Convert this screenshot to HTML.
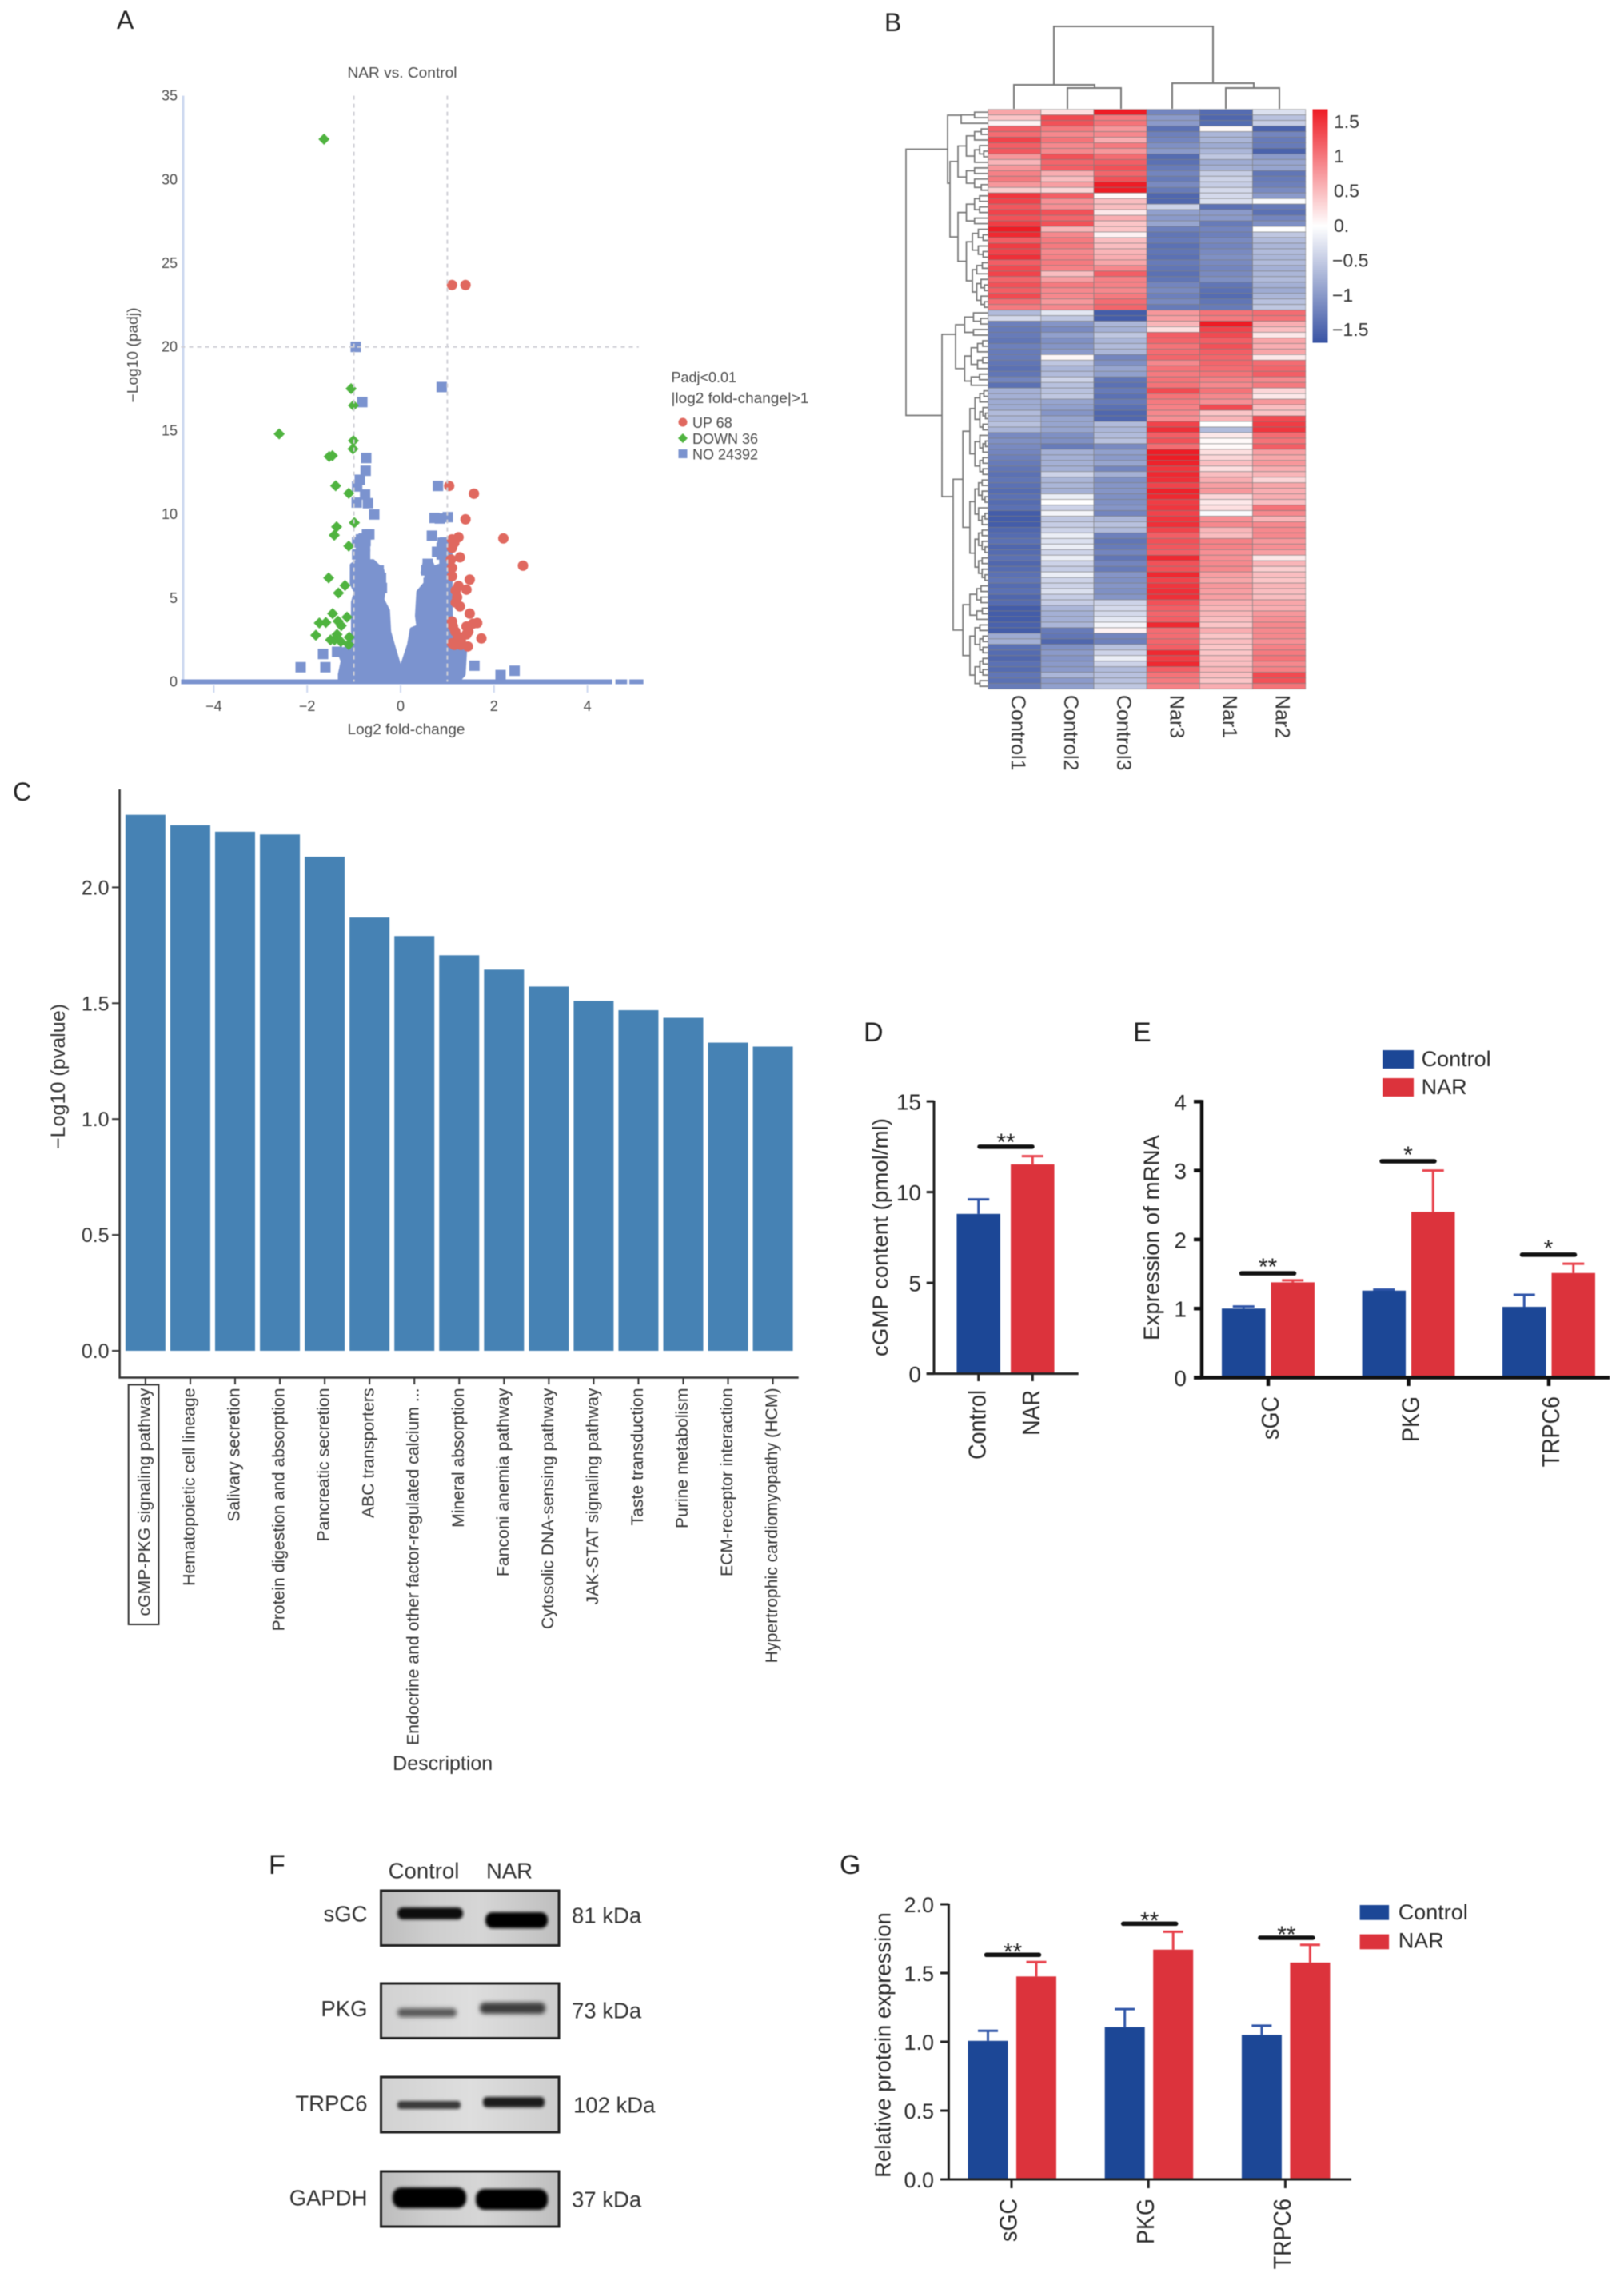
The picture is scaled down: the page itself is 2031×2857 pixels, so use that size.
<!DOCTYPE html>
<html lang="en">
<head>
<meta charset="utf-8">
<title>NAR vs Control multi-panel figure</title>
<style>
html,body{margin:0;padding:0;background:#fff}
svg{display:block;font-family:"Liberation Sans",Arial,sans-serif;filter:blur(0.6px)}
text{fill:#333}
.lab{font-size:32px;fill:#222}
.a{font-size:18px;fill:#4a4a4a}
.d{font-size:27px;fill:#2a2a2a}
.bl{font-size:27.5px;fill:#333}
</style>
</head>
<body>
<svg id="figure" xmlns="http://www.w3.org/2000/svg" width="2031" height="2857" viewBox="0 0 2031 2857">
<defs>
<linearGradient id="cbar" x1="0" y1="0" x2="0" y2="1">
<stop offset="0" stop-color="#ee1c25"/><stop offset=".5" stop-color="#ffffff"/><stop offset="1" stop-color="#3953a4"/>
</linearGradient>
<linearGradient id="membraneA" x1="0" y1="0" x2="1" y2="0">
<stop offset="0" stop-color="#bdbdbd"/><stop offset=".3" stop-color="#cfcfcf"/><stop offset=".55" stop-color="#d6d6d6"/><stop offset="1" stop-color="#bfbfbf"/>
</linearGradient>
<linearGradient id="membraneB" x1="0" y1="0" x2="1" y2="0">
<stop offset="0" stop-color="#d2d2d2"/><stop offset=".5" stop-color="#dedede"/><stop offset="1" stop-color="#cdcdcd"/>
</linearGradient>
<filter id="blot" x="-20%" y="-80%" width="140%" height="260%"><feGaussianBlur stdDeviation="2.6"/></filter>
<filter id="blot2" x="-20%" y="-80%" width="140%" height="260%"><feGaussianBlur stdDeviation="1.8"/></filter>
</defs>

<text class="lab" x="146" y="36">A</text>
<text class="lab" x="1106" y="39">B</text>
<text class="lab" x="16" y="1001">C</text>
<text class="lab" x="1080" y="1302" style="font-size:34px">D</text>
<text class="lab" x="1417" y="1302" style="font-size:34px">E</text>
<text class="lab" x="336" y="2343" style="font-size:34px">F</text>
<text class="lab" x="1050" y="2343" style="font-size:34px">G</text>

<!-- Panel A -->
<g id="panelA">
<text class="a" x="503" y="91" text-anchor="middle" dominant-baseline="central" textLength="137" lengthAdjust="spacingAndGlyphs">NAR vs. Control</text>
<text class="a" transform="translate(166 444) rotate(-90)" text-anchor="middle" dominant-baseline="central" textLength="119" lengthAdjust="spacingAndGlyphs">−Log10 (padj)</text>
<text class="a" x="508" y="912" text-anchor="middle" dominant-baseline="central" textLength="147" lengthAdjust="spacingAndGlyphs">Log2 fold-change</text>
<text class="a" x="839.5" y="472" dominant-baseline="central">Padj&lt;0.01</text>
<text class="a" x="839.5" y="498" dominant-baseline="central" textLength="172" lengthAdjust="spacingAndGlyphs">|log2 fold-change|&gt;1</text>
<circle cx="854" cy="528" r="5.5" fill="#e0685f"/>
<text class="a" x="866" y="529" dominant-baseline="central">UP 68</text>
<polygon points="854,542 860,548 854,554 848,548" fill="#4fb33f"/>
<text class="a" x="866" y="549" dominant-baseline="central">DOWN 36</text>
<rect x="848.5" y="562" width="11" height="11" fill="#7b93cf"/>
<text class="a" x="866" y="568.5" dominant-baseline="central">NO 24392</text>
</g>

<!-- Panel B -->
<g id="panelB">
<path fill="none" stroke="#777" stroke-width="2"
 d="M1318 104V33H1517V102 M1268 136V106H1369V110 M1335 136V110H1402V136 M1318 106V104 M1466 136V104H1568V110 M1533 136V110H1600V136 M1517 104V102"/>
<g id="rowDendro"></g>
<g id="heatCells"></g>
<rect x="1641.5" y="136.5" width="19" height="292" fill="url(#cbar)"/>
</g>

<!-- Panel C -->
<g id="panelC">
<text transform="translate(73 1346) rotate(-90)" text-anchor="middle" dominant-baseline="central" style="font-size:25px" textLength="182" lengthAdjust="spacingAndGlyphs">−Log10 (pvalue)</text>
<text x="553.7" y="2205" text-anchor="middle" dominant-baseline="central" style="font-size:25px">Description</text>
<rect x="160.7" y="1731.4" width="37.7" height="299.6" fill="none" stroke="#333" stroke-width="2"/>
</g>

<!-- Panel D -->
<g id="panelD">
<text class="d" transform="translate(1101 1547) rotate(-90)" text-anchor="middle" dominant-baseline="central" textLength="298" lengthAdjust="spacingAndGlyphs">cGMP content (pmol/ml)</text>
</g>

<!-- Panel E -->
<g id="panelE">
<text class="d" transform="translate(1440 1547.5) rotate(-90)" text-anchor="middle" dominant-baseline="central" style="font-size:27.7px">Expression of mRNA</text>
<rect x="1729" y="1313" width="39" height="23" fill="#1c4796"/>
<text class="d" x="1777.6" y="1324" dominant-baseline="central">Control</text>
<rect x="1729" y="1348" width="39" height="23" fill="#dc333c"/>
<text class="d" x="1777.6" y="1359" dominant-baseline="central">NAR</text>
</g>

<!-- Panel F -->
<g id="panelF">
<text class="bl" x="530" y="2339" text-anchor="middle" dominant-baseline="central">Control</text>
<text class="bl" x="637" y="2339" text-anchor="middle" dominant-baseline="central">NAR</text>

<rect x="476.5" y="2364" width="222.5" height="68.5" fill="url(#membraneA)" stroke="#222" stroke-width="3"/>
<rect x="497" y="2385" width="82" height="15" rx="7" fill="#111" filter="url(#blot2)"/>
<rect x="607" y="2391" width="78" height="20" rx="9" fill="#050505" filter="url(#blot2)"/>
<text class="bl" x="459.5" y="2393" text-anchor="end" dominant-baseline="central">sGC</text>
<text class="bl" x="715" y="2395" dominant-baseline="central">81 kDa</text>

<rect x="476.5" y="2480" width="222.5" height="68.5" fill="url(#membraneB)" stroke="#222" stroke-width="3"/>
<rect x="497" y="2511" width="74" height="11" rx="5" fill="#5a5a5a" filter="url(#blot)"/>
<rect x="600" y="2504" width="82" height="14" rx="6" fill="#3c3c3c" filter="url(#blot)"/>
<text class="bl" x="459.5" y="2511.4" text-anchor="end" dominant-baseline="central">PKG</text>
<text class="bl" x="715" y="2514" dominant-baseline="central">73 kDa</text>

<rect x="476.5" y="2597" width="222.5" height="69" fill="url(#membraneB)" stroke="#222" stroke-width="3"/>
<rect x="497" y="2627" width="79" height="10" rx="4" fill="#3a3a3a" filter="url(#blot2)"/>
<rect x="604" y="2622" width="77" height="13" rx="5" fill="#1c1c1c" filter="url(#blot2)"/>
<text class="bl" x="459.5" y="2630" text-anchor="end" dominant-baseline="central">TRPC6</text>
<text class="bl" x="717" y="2632" dominant-baseline="central">102 kDa</text>

<rect x="476.5" y="2715" width="222.5" height="69" fill="url(#membraneA)" stroke="#222" stroke-width="3"/>
<rect x="491" y="2735" width="92" height="26" rx="11" fill="#050505" filter="url(#blot2)"/>
<rect x="595" y="2737" width="90" height="26" rx="11" fill="#050505" filter="url(#blot2)"/>
<text class="bl" x="459.5" y="2748" text-anchor="end" dominant-baseline="central">GAPDH</text>
<text class="bl" x="715" y="2750" dominant-baseline="central">37 kDa</text>
</g>

<!-- Panel G -->
<g id="panelG">
<text class="d" transform="translate(1104 2557) rotate(-90)" text-anchor="middle" dominant-baseline="central" style="font-size:27.5px">Relative protein expression</text>
<rect x="1700.6" y="2382" width="36.5" height="18.7" fill="#1c4796"/>
<text class="d" x="1748.7" y="2391" dominant-baseline="central">Control</text>
<rect x="1700.6" y="2418.6" width="36.5" height="18.7" fill="#dc333c"/>
<text class="d" x="1748.7" y="2426.4" dominant-baseline="central">NAR</text>
</g>
</svg>

<script>
/* ---------- Panel A data ---------- */
const volcanoXTicks = [-4, -2, 0, 2, 4];
const volcanoYTicks = [0, 5, 10, 15, 20, 25, 30, 35];
const upX = [1.1,1.39,1.04,1.57,1.39,2.2,2.62,1.24,1.1,1.15,1.1,1.27,1.08,1.1,1.1,1.48,1.24,1.41,1.18,1.21,1.18,1.27,1.48,1.64,1.55,1.41,1.1,1.12,1.17,1.23,1.29,1.44,1.41,1.45,1.73,1.1,1.15,1.29];
const upY = [23.7,23.7,11.69,11.23,9.7,8.56,6.93,8.63,8.5,8.3,8.0,7.43,7.3,6.8,6.3,6.1,5.72,5.5,5.45,5.05,4.73,4.5,4.07,3.51,3.47,3.3,3.6,3.3,3.0,2.7,2.45,2.11,2.83,3.0,2.59,2.3,2.2,2.2];
const downX = [-1.64,-2.6,-1.06,-1.01,-1.01,-1.02,-1.53,-1.46,-1.39,-1.11,-0.99,-1.37,-1.42,-1.11,-1.54,-1.19,-1.33,-1.455,-1.147,-1.34,-1.27,-1.74,-1.6,-1.815,-1.36,-1.415,-1.5,-1.1,-1.11,-1.28];
const downY = [32.4,14.8,17.5,16.5,14.4,13.9,13.45,13.5,11.7,11.25,9.5,9.25,8.75,8.1,6.2,5.75,5.3,4.07,3.86,3.62,3.35,3.51,3.54,2.78,2.83,2.5,2.5,2.66,2.22,2.4];
const noX = [-0.96,0.88,-0.82,-0.736,-0.748,-0.873,-0.93,-0.76,-0.94,-0.7,-0.565,-0.67,-0.79,-0.93,-0.93,-0.76,-0.76,-0.47,0.8,0.725,0.84,1.01,0.67,0.95,0.78,0.95,0.58,0.55,0.95,-1.66,-2.14,-1.61,1.58,2.14,2.44,-1.36,-0.85,-0.85,-0.85,-0.75,-0.72,0.88,0.88,1.0,1.0,0.9,0.62,0.6,-0.42,-0.4];
const noY = [20,17.6,16.7,13.36,12.6,12.06,11.66,11.18,10.7,10.66,9.99,8.8,8.56,8.32,7.6,8.08,7.6,6.65,11.69,9.78,9.75,9.83,8.72,8.32,7.76,7.76,7.04,6.65,7.1,1.66,0.87,0.87,0.96,0.4,0.66,1.79,8.0,7.5,8.5,8.4,8.8,8.0,7.6,8.3,7.8,8.3,6.2,5.9,6.2,5.6];
const massX = [-1.3,-1.3,-1.24,-1.33,-1.02,-1.02,-0.96,-1.045,-1.045,-0.93,-0.59,-0.39,-0.35,-0.39,-0.27,-0.245,-0.13,0,0.18,0.24,0.38,0.35,0.38,0.5,0.7,0.47,0.52,0.67,0.7,0.87,0.87,1.07,1.07,1.09,1.38,1.35,1.21];
const massY = [0,0.44,1.24,1.87,2.1,4.74,5.37,5.85,6.97,7.2,7.2,6.65,5.77,4.9,4.26,2.98,1.87,0.68,2.2,3.14,3.3,3.94,5.37,5.77,6.33,6.5,7.2,7.04,6.8,6.97,7.36,7.36,4.74,2.2,1.87,0.44,0];
const baselineStart = [-4.7, 4.6, 4.9];
const baselineEnd = [4.53, 4.85, 5.2];
const thresholdsX = [-1, 1];
const thresholdY = 20;

/* ---------- Panel B data (row values per column, top to bottom) ---------- */
const heatColumns = ['Control1','Control2','Control3','Nar3','Nar1','Nar2'];
const control1Values = [.5,.3,.05,1,.9,1.2,1,1.05,.6,.4,.6,.75,.8,.6,.25,1.3,1.2,1.05,1.2,1.1,1.25,1.5,1.4,1,1.25,1.2,1.35,1,1.15,1.2,.95,1.1,1,1.15,.9,.8,-.5,-.25,-1.05,-1.1,-1.1,-1.15,-1.05,-1.1,-1.1,-1.15,-1.2,-1.15,-1,-1.2,-.6,-.6,-.65,-.65,-.5,-.55,-.45,-.55,-.95,-.9,-.95,-1,-1.05,-1.1,-1.15,-1.2,-1.15,-1.2,-1.25,-1.2,-1.25,-1.2,-1.4,-1.4,-1.4,-1.3,-1.25,-1.2,-1.3,-1.25,-1.2,-1.3,-1.25,-1.2,-1.15,-1.25,-1.2,-1.3,-1.25,-1.4,-1.4,-1.4,-1.35,-1.4,-.65,-.6,-1.2,-1.25,-1.3,-1.2,-1.25,-1.15,-1.2,-1.1];
const control2Values = [.15,1.15,1.1,.8,.7,.85,.7,.7,1.1,.95,1,.45,.35,.55,.2,1,.65,.65,1.1,.95,1.1,.4,.7,.8,.8,.7,.75,.8,.75,.35,.55,.8,.7,.7,.6,.7,-.15,-.4,-.85,-.95,-.75,-.9,-.85,-.8,.03,-.4,-.55,-.5,-.3,-.45,-.45,-.4,-.7,-.75,-.85,-.7,-.7,-.7,-.9,-.9,-1.1,-.6,-.6,-.6,-.6,-.3,-.55,-.55,-.6,-.1,0,-.3,-.05,-.4,-.35,-.3,-.1,-.2,-.1,-.3,-.1,-.3,-.35,-.1,-.3,-.3,-.2,-.35,-.35,-.55,-.6,-.6,-.55,-1.1,-1.15,-1.3,-.9,-.8,-.85,-.8,-.8,-.55,-.8,-.75];
const control3Values = [1.5,.8,.85,.6,.7,.45,.8,.6,.9,1,1.1,.95,1.1,1.5,1.5,.02,.35,.35,.1,.45,.3,.3,.05,.35,.35,.4,.45,.5,.7,1,.75,.75,.7,.8,.9,.95,-1.4,-1.4,-.55,-.6,-.4,-.55,-.5,-.55,-1,-.9,-.7,-.75,-1.15,-1.2,-1.1,-1.2,-1.1,-1.2,-1.3,-1.3,-.5,-.55,-.5,-.45,-.95,-.75,-.8,-.7,-1,-.6,-.9,-.85,-.85,-.9,-.9,-.85,-1,-.55,-.45,-.5,-1.05,-1.15,-1.1,-1,-1.15,-1,-1.1,-.85,-.9,-.85,-.9,-.85,-.3,-.25,-.25,-.15,-.05,.05,-1,-1.05,-.45,-.3,-.1,-.3,-.5,-.45,-.45,-.4];
const nar3Values = [-1,-.8,-.8,-1.2,-1.05,-1,-.9,-.8,-1.25,-1.2,-1.1,-1,-1.1,-.95,-1.1,-1.3,-1.3,-.3,-.75,-.8,-.7,-1.05,-1.15,-1.1,-1.2,-1.15,-1.2,-1.1,-1.15,-1.2,-1.15,-1,-.95,-1.05,-.95,-1.1,.6,.55,.4,.15,1,.95,.85,.9,.95,.7,.85,.8,.85,.85,1.15,.85,.8,.75,.7,.65,1.2,1.35,1,1.1,.9,1.5,1.55,1.45,1.3,1.4,1.35,1.2,1.45,1.4,1.25,1.3,1.2,1.3,1.35,1.2,1,1.1,1.05,1,1.4,1.1,1.1,1.4,1.2,1.3,1.35,1.35,1.1,1,.95,1,1.4,.9,.9,.95,1,1.4,1.25,1.4,1,.85,.8,.75];
const nar1Values = [-1.25,-1.3,-1.25,.02,-.55,-.55,-.65,-.55,-.4,-.65,-.6,-.35,-.3,-.35,-.25,-.25,-.2,-1.2,-.8,-.8,-1.1,-1,-1.05,-.95,-1,-.95,-.9,-.95,-1,-.95,-.9,-1.15,-1.2,-1.25,-1.15,-1.1,.85,.8,1.5,1.2,1.15,1,1.1,1,.95,.95,.9,.85,.75,.7,.85,.7,.65,1.15,.3,.4,0,-.5,.1,.02,.02,.15,.2,.35,.15,.35,.45,.55,.6,.2,.1,.15,-.02,.65,.7,.4,.35,.75,.75,.65,.65,.7,.7,.55,.5,.6,.55,.55,.45,.4,.4,.35,.3,.45,.3,.35,.3,.3,.35,.35,.4,.35,.3,.45];
const nar2Values = [-.2,-.45,-.35,-1.35,-1,-1.1,-1.1,-1.35,-.8,-.7,-.7,-1.15,-1.1,-1.05,-.95,-.8,-.02,-1.1,-1.2,-1,-.9,0,-.4,-.5,-.55,-.5,-.55,-.5,-.6,-.55,-.5,-.6,-.65,-.55,-.45,-.4,.9,.85,.45,.35,.1,.5,.45,.5,.1,.9,.95,1,.7,.8,.2,.1,.6,.35,.3,1.15,1.25,1.3,.9,.85,1,.55,.5,.6,.45,.4,.2,.5,.45,.45,.35,.85,.7,.4,.7,.7,.7,.6,.65,.55,.1,.4,.25,.35,.3,.4,.35,.35,.5,.45,.6,.65,.7,.7,.7,.65,.75,.8,.85,.7,.75,1.15,1.1,.85];
const heatValues = [control1Values, control2Values, control3Values, nar3Values, nar1Values, nar2Values];
const scaleLabels = ['1.5','1','0.5','0.','−0.5','−1','−1.5'];
const scaleValues = [1.5,1,.5,0,-.5,-1,-1.5];
const dendroSplits = [.5,.35,.6,.4,.55,.3,.65,.45];

/* ---------- Panel C data ---------- */
const pathwayNames = ['cGMP-PKG signaling pathway','Hematopoietic cell lineage','Salivary secretion','Protein digestion and absorption','Pancreatic secretion','ABC transporters','Endocrine and other factor-regulated calcium ...','Mineral absorption','Fanconi anemia pathway','Cytosolic DNA-sensing pathway','JAK-STAT signaling pathway','Taste transduction','Purine metabolism','ECM-receptor interaction','Hypertrophic cardiomyopathy (HCM)'];
const pathwayValues = [2.313,2.268,2.24,2.228,2.132,1.87,1.79,1.707,1.645,1.572,1.51,1.47,1.437,1.33,1.313];
const pathwayTicks = ['0.0','0.5','1.0','1.5','2.0'];

/* ---------- Panel D data ---------- */
const cgmpGroups = ['Control','NAR'];
const cgmpMeans = [8.8,11.53];
const cgmpUpper = [9.6,11.98];
const cgmpTicks = [0,5,10,15];
const cgmpSigLevel = 12.5;
const cgmpSigLabel = '**';

/* ---------- Panel E data ---------- */
const mrnaGenes = ['sGC','PKG','TRPC6'];
const mrnaControl = [1.0,1.26,1.025];
const mrnaNar = [1.38,2.4,1.515];
const mrnaControlUpper = [1.03,1.275,1.2];
const mrnaNarUpper = [1.41,3.0,1.65];
const mrnaTicks = [0,1,2,3,4];
const mrnaSigLevels = [1.51,3.135,1.78];
const mrnaSigLabels = ['**','*','*'];

/* ---------- Panel G data ---------- */
const proteinGenes = ['sGC','PKG','TRPC6'];
const proteinControl = [1.007,1.107,1.05];
const proteinNar = [1.475,1.67,1.576];
const proteinControlUpper = [1.08,1.238,1.117];
const proteinNarUpper = [1.58,1.8,1.705];
const proteinTicks = ['0.0','0.5','1.0','1.5','2.0'];
const proteinSigLevels = [1.632,1.858,1.756];
const proteinSigLabels = ['**','**','**'];

const NS = 'http://www.w3.org/2000/svg';
function mk(tag, attrs, parent, txt) {
  const el = document.createElementNS(NS, tag);
  for (const k in attrs) el.setAttribute(k, attrs[k]);
  if (txt !== undefined) el.textContent = txt;
  parent.appendChild(el);
  return el;
}
const BLUE = '#1c4796', RED = '#dc333c', BLUE_E = '#2f55a8', RED_E = '#e8424c';

/* ---------- Panel A ---------- */
(function () {
  const g = document.getElementById('panelA');
  const xA = v => 501 + 58.4 * v;
  const yA = v => 852.5 - 20.94 * v;
  const axis = mk('line', {x1: 229, x2: 229, y1: yA(35), y2: yA(0), stroke: '#cdd8f0', 'stroke-width': 3}, g);
  
  
  volcanoYTicks.forEach(t => {
    const el = mk('text', {class: 'a', x: 222, y: yA(t), 'text-anchor': 'end', 'dominant-baseline': 'central'}, g, String(t));
    
    
  });
  volcanoXTicks.forEach(t => {
    const tick = mk('line', {x1: xA(t), x2: xA(t), y1: 857, y2: 866, stroke: '#cdd8f0', 'stroke-width': 2}, g);
    
    
    const el = mk('text', {class: 'a', x: xA(t), y: 883, 'text-anchor': 'middle', 'dominant-baseline': 'central'}, g, t < 0 ? '−' + (-t) : String(t));
    
    
  });
  baselineStart.forEach((s, i) => {
    const b = mk('rect', {x: xA(s), y: yA(0) - 3, width: xA(baselineEnd[i]) - xA(s), height: 6, fill: '#7b93cf'}, g);
    
    
  });
  const mass = mk('polygon', {points: massX.map((v, i) => xA(v) + ',' + yA(massY[i])).join(' '), fill: '#7b93cf', stroke: '#7b93cf', 'stroke-width': 5, 'stroke-linejoin': 'round'}, g);
  
  
  noX.forEach((v, i) => {
    const p = mk('rect', {x: xA(v) - 6.5, y: yA(noY[i]) - 6.5, width: 13, height: 13, fill: '#7b93cf'}, g);
    
    
  });
  downX.forEach((v, i) => {
    const cx = xA(v), cy = yA(downY[i]);
    const p = mk('polygon', {points: [cx, cy - 7, cx + 7, cy, cx, cy + 7, cx - 7, cy].join(','), fill: '#4fb33f'}, g);
    
    
  });
  upX.forEach((v, i) => {
    const p = mk('circle', {cx: xA(v), cy: yA(upY[i]), r: 6.5, fill: '#e0685f'}, g);
    
    
  });
  thresholdsX.forEach(t => {
    const l = mk('line', {x1: xA(t), x2: xA(t), y1: yA(35), y2: yA(0), stroke: '#cfcfd6', 'stroke-width': 2, 'stroke-dasharray': '5 5'}, g);
    
    
  });
  const h = mk('line', {x1: xA(-4.7), x2: xA(5.1), y1: yA(thresholdY), y2: yA(thresholdY), stroke: '#cfcfd6', 'stroke-width': 2, 'stroke-dasharray': '5 5'}, g);
  
  
})();

/* ---------- Panel B ---------- */
(function () {
  const g = document.getElementById('panelB');
  const cells = document.getElementById('heatCells');
  const colW = 66.17, left = 1235.7, top = 136.7, rowH = 6.97;
  const xH = c => left + c * colW;
  const yH = r => top + r * rowH;
  const mix = (a, b, t) => a.map((v, i) => Math.round(v + (b[i] - v) * t));
  const color = v => {
    const t = Math.pow(Math.min(1, Math.abs(v) / 1.5), 0.85);
    const c = v >= 0 ? mix([255, 255, 255], [238, 28, 37], t) : mix([255, 255, 255], [57, 83, 164], t);
    return 'rgb(' + c.join(',') + ')';
  };
  heatValues.forEach((col, c) => {
    col.forEach((v, r) => {
      const cell = mk('rect', {x: xH(c), y: yH(r), width: colW, height: rowH, fill: color(v), stroke: 'rgba(125,125,125,.6)', 'stroke-width': 0.9}, cells);
      
      
    });
    const lab = mk('text', {transform: 'translate(' + (xH(c) + colW / 2 + 4) + ' 869) rotate(90)', 'dominant-baseline': 'central', style: 'font-size:25px'}, g, heatColumns[c]);
    
    
  });
  const yScale = v => 282 - 86.8 * v;
  scaleLabels.forEach((s, i) => {
    const t = mk('text', {x: scaleValues[i] < 0 ? 1666 : 1668, y: yScale(scaleValues[i]), 'dominant-baseline': 'central', style: 'font-size:23px'}, g, s);
    
    
  });

  const rd = document.getElementById('rowDendro');
  let d = '', k = 0;
  const R = 1235.5;
  const join = (a, b, x) => {
    d += 'M' + a.x + ' ' + a.y + 'H' + x + 'V' + b.y + 'H' + b.x;
    return {x: x, y: (a.y + b.y) / 2};
  };
  const build = (lo, hi, x) => {
    const n = hi - lo;
    if (n === 1) return {x: R, y: yH(lo) + rowH / 2};
    const s = dendroSplits[k++ % dendroSplits.length];
    const m = lo + Math.min(n - 1, Math.max(1, Math.round(n * s)));
    const nx = x + (R - x) * (n > 8 ? .28 : n > 3 ? .38 : .5);
    return join(build(lo, m, nx), build(m, hi, nx), x);
  };
  const a = build(0, 3, 1202);
  a.y = 144;
  const b = build(3, 15, 1198);
  const c = build(15, 36, 1198);
  const bc = join(b, c, 1188);
  bc.y = 229;
  const ab = join(a, bc, 1185);
  const e = build(36, 50, 1195);
  e.y = 418;
  const f = build(50, 104, 1192);
  f.y = 621;
  const ef = join(e, f, 1178);
  join(ab, ef, 1133);
  const path = mk('path', {d: d, fill: 'none', stroke: '#777', 'stroke-width': 1.7}, rd);
  
  
})();

/* ---------- Panel C ---------- */
(function () {
  const g = document.getElementById('panelC');
  const yC = v => 1689 - 289.8 * v;
  const xC = i => 181.9 + 56.05 * i;
  pathwayValues.forEach((v, i) => {
    const bar = mk('rect', {x: xC(i) - 25, y: yC(v), width: 50, height: yC(0) - yC(v), fill: '#4682b4'}, g);
    
    
    const tick = mk('line', {x1: xC(i), x2: xC(i), y1: 1722, y2: 1731, stroke: '#333', 'stroke-width': 2}, g);
    
    
    const lab = mk('text', {transform: 'translate(' + (xC(i) - 1) + ' 1735.5) rotate(-90)', 'text-anchor': 'end', 'dominant-baseline': 'central', style: 'font-size:21.2px'}, g, pathwayNames[i]);
    
    
  });
  pathwayTicks.forEach(t => {
    const y = yC(parseFloat(t));
    const tick = mk('line', {x1: 140, x2: 149, y1: y, y2: y, stroke: '#333', 'stroke-width': 2}, g);
    
    
    const lab = mk('text', {x: 136.6, y: y + 1, 'text-anchor': 'end', 'dominant-baseline': 'central', style: 'font-size:25px'}, g, t);
    
    
  });
  const ay = mk('line', {x1: 149.6, x2: 149.6, y1: 987, y2: 1723.5, stroke: '#333', 'stroke-width': 2.5}, g);
  
  
  const ax = mk('line', {x1: 148.5, x2: 998.7, y1: 1722.5, y2: 1722.5, stroke: '#333', 'stroke-width': 2.5}, g);
  
  
})();

/* ---------- shared pieces for D, E, G ---------- */
function drawBar(g, name, x, w, yTop, yBase, yErr, fill, errFill, capW, lw) {
  const cx = x + w / 2;
  const e1 = mk('line', {x1: cx, x2: cx, y1: yTop, y2: yErr, stroke: errFill, 'stroke-width': lw}, g);
  
  
  const e2 = mk('line', {x1: cx - capW / 2, x2: cx + capW / 2, y1: yErr, y2: yErr, stroke: errFill, 'stroke-width': lw}, g);
  
  
  const b = mk('rect', {x: x, y: yTop, width: w, height: yBase - yTop, fill: fill}, g);
  
  
}
function drawSig(g, name, cx, halfW, y, label, gap) {
  const l = mk('line', {x1: cx - halfW, x2: cx + halfW, y1: y, y2: y, stroke: '#111', 'stroke-width': 5.5, 'stroke-linecap': 'round'}, g);
  
  
  const t = mk('text', {x: cx, y: y + gap, 'text-anchor': 'middle', style: 'font-size:30px;fill:#222'}, g, label);
  
  
}
function rotatedLabel(g, text, x, y) {
  return mk('text', {class: 'd', transform: 'translate(' + x + ' ' + y + ') rotate(-90) scale(.87 1)', 'text-anchor': 'end', 'dominant-baseline': 'central', style: 'font-size:31px'}, g, text);
}

/* ---------- Panel D ---------- */
(function () {
  const g = document.getElementById('panelD');
  const yD = v => 1717.6 - 22.7 * v;
  const xD = i => 1223.7 + 67.6 * i;
  cgmpGroups.forEach((name, i) => {
    drawBar(g, name.toLowerCase(), xD(i) - 27.25, 54.5, yD(cgmpMeans[i]), yD(0), yD(cgmpUpper[i]), i ? RED : BLUE, i ? RED_E : BLUE_E, 27, 3);
    const tick = mk('line', {x1: xD(i), x2: xD(i), y1: yD(0), y2: 1727, stroke: '#222', 'stroke-width': 3}, g);
    
    
    const lab = rotatedLabel(g, name, xD(i) - 1, 1738);
    
    
  });
  cgmpTicks.forEach(t => {
    const tick = mk('line', {x1: 1158.7, x2: 1168, y1: yD(t), y2: yD(t), stroke: '#222', 'stroke-width': 3}, g);
    
    
    const lab = mk('text', {x: 1152, y: yD(t) + 1, 'text-anchor': 'end', 'dominant-baseline': 'central', style: 'font-size:28px;fill:#2a2a2a'}, g, String(t));
    
    
  });
  const ay = mk('line', {x1: 1168, x2: 1168, y1: yD(15) - 1, y2: yD(0) + 1, stroke: '#222', 'stroke-width': 3}, g);
  
  
  const ax = mk('line', {x1: 1158.7, x2: 1348.7, y1: yD(0), y2: yD(0), stroke: '#222', 'stroke-width': 3}, g);
  
  
  drawSig(g, 'cgmp', (xD(0) + xD(1)) / 2 + .5, 33, yD(cgmpSigLevel), cgmpSigLabel, 4);
})();

/* ---------- Panel E ---------- */
(function () {
  const g = document.getElementById('panelE');
  const yE = v => 1722.5 - 86.3 * v;
  const xE = i => 1586 + 175.5 * i;
  mrnaGenes.forEach((name, i) => {
    drawBar(g, 'control-' + name, xE(i) - 58, 54.5, yE(mrnaControl[i]), yE(0), yE(mrnaControlUpper[i]), BLUE, BLUE_E, 27, 3);
    drawBar(g, 'nar-' + name, xE(i) + 3.5, 54.5, yE(mrnaNar[i]), yE(0), yE(mrnaNarUpper[i]), RED, RED_E, 27, 3);
    const tick = mk('line', {x1: xE(i), x2: xE(i), y1: yE(0), y2: 1733, stroke: '#111', 'stroke-width': 4.5}, g);
    
    
    const lab = rotatedLabel(g, name, xE(i) + 3.5, 1746);
    
    
    drawSig(g, 'mrna-' + name, xE(i) - .5, 33, yE(mrnaSigLevels[i]), mrnaSigLabels[i], 2);
  });
  mrnaTicks.forEach(t => {
    const tick = mk('line', {x1: 1493, x2: 1503, y1: yE(t), y2: yE(t), stroke: '#111', 'stroke-width': 4.5}, g);
    
    
    const lab = mk('text', {x: 1484, y: yE(t) + 1, 'text-anchor': 'end', 'dominant-baseline': 'central', style: 'font-size:28px;fill:#2a2a2a'}, g, String(t));
    
    
  });
  const ay = mk('line', {x1: 1503, x2: 1503, y1: yE(4) - 2, y2: yE(0) + 2, stroke: '#111', 'stroke-width': 4.5}, g);
  
  
  const ax = mk('line', {x1: 1493, x2: 2013, y1: yE(0), y2: yE(0), stroke: '#111', 'stroke-width': 4.5}, g);
  
  
})();

/* ---------- Panel G ---------- */
(function () {
  const g = document.getElementById('panelG');
  const yG = v => 2725 - 172 * v;
  const xG = i => 1265 + 171.2 * i;
  proteinGenes.forEach((name, i) => {
    drawBar(g, 'control-' + name, xG(i) - 54.5, 50, yG(proteinControl[i]), yG(0), yG(proteinControlUpper[i]), BLUE, BLUE_E, 25, 3);
    drawBar(g, 'nar-' + name, xG(i) + 6, 50, yG(proteinNar[i]), yG(0), yG(proteinNarUpper[i]), RED, RED_E, 25, 3);
    const tick = mk('line', {x1: xG(i), x2: xG(i), y1: yG(0), y2: 2736, stroke: '#222', 'stroke-width': 3}, g);
    
    
    const lab = rotatedLabel(g, name, xG(i) - 3, 2749);
    
    
    drawSig(g, 'protein-' + name, xG(i) + 1.5, 33, yG(proteinSigLevels[i]), proteinSigLabels[i], 6);
  });
  proteinTicks.forEach(t => {
    const y = yG(parseFloat(t));
    const tick = mk('line', {x1: 1176, x2: 1186.4, y1: y, y2: y, stroke: '#222', 'stroke-width': 3}, g);
    
    
    const lab = mk('text', {x: 1168, y: y + 1, 'text-anchor': 'end', 'dominant-baseline': 'central', style: 'font-size:27px;fill:#2a2a2a'}, g, t);
    
    
  });
  const ay = mk('line', {x1: 1186.4, x2: 1186.4, y1: yG(2) - 1, y2: yG(0) + 1, stroke: '#222', 'stroke-width': 3}, g);
  
  
  const ax = mk('line', {x1: 1176, x2: 1690, y1: yG(0), y2: yG(0), stroke: '#222', 'stroke-width': 3}, g);
  
  
})();
</script>
</body>
</html>
